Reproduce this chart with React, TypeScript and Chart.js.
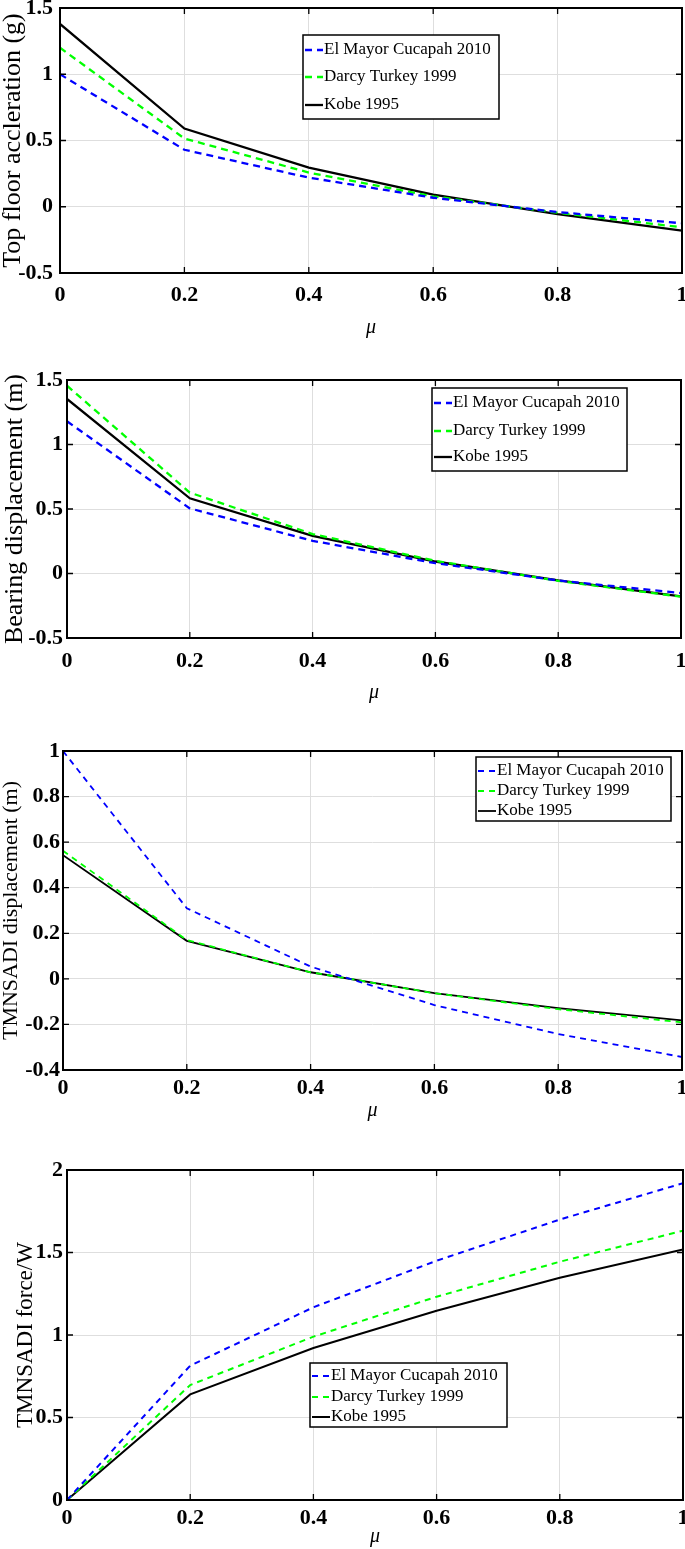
import React, { useEffect, useRef } from "react";
import { Chart, registerables } from "chart.js";

Chart.register(...registerables);

// ---------------- data ----------------
const MU = [0, 0.2, 0.4, 0.6, 0.8, 1];
const X_TICKS = [0, 0.2, 0.4, 0.6, 0.8, 1];

const SERIES_NAMES = ["El Mayor Cucapah 2010", "Darcy Turkey 1999", "Kobe 1995"];

// Top floor acceleration (g)
const ACC_ELMAYOR = [1.0, 0.43, 0.22, 0.068, -0.04, -0.125];
const ACC_DARCY = [1.2, 0.515, 0.258, 0.078, -0.045, -0.155];
const ACC_KOBE = [1.38, 0.59, 0.295, 0.092, -0.055, -0.18];
const ACC_TICKS = [-0.5, 0, 0.5, 1, 1.5];

// Bearing displacement (m)
const BEAR_ELMAYOR = [1.18, 0.505, 0.253, 0.08, -0.054, -0.152];
const BEAR_DARCY = [1.456, 0.627, 0.306, 0.098, -0.057, -0.18];
const BEAR_KOBE = [1.353, 0.583, 0.292, 0.093, -0.054, -0.178];
const BEAR_TICKS = [-0.5, 0, 0.5, 1, 1.5];

// TMNSADI displacement (m)
const DISP_ELMAYOR = [1.0, 0.31, 0.054, -0.115, -0.242, -0.343];
const DISP_DARCY = [0.562, 0.17, 0.029, -0.063, -0.133, -0.191];
const DISP_KOBE = [0.543, 0.167, 0.029, -0.063, -0.128, -0.182];
const DISP_TICKS = [-0.4, -0.2, 0, 0.2, 0.4, 0.6, 0.8, 1];

// TMNSADI force / W
const FORCE_ELMAYOR = [0, 0.814, 1.168, 1.45, 1.7, 1.92];
const FORCE_DARCY = [0, 0.697, 0.99, 1.232, 1.444, 1.632];
const FORCE_KOBE = [0, 0.64, 0.921, 1.147, 1.347, 1.519];
const FORCE_TICKS = [0, 0.5, 1, 1.5, 2];

// ---------------- styling ----------------
const SERIF = "'Liberation Serif', 'Times New Roman', serif";
const COLORS = ["#0000ff", "#00ff00", "#000000"];
const GRID = "#dedede";

const fmt = (v: number) => String(Number(v.toFixed(2)));

const framePlugin = {
  id: "matFrame",
  afterDatasetsDraw(chart: any) {
    const { ctx, chartArea: a, scales } = chart;
    const xs = scales.x;
    const ys = scales.y;
    const L = 6;
    ctx.save();
    ctx.strokeStyle = "#000";
    ctx.lineWidth = 1.3;
    ctx.setLineDash([]);
    ctx.beginPath();
    xs.ticks.forEach((t: any) => {
      const px = xs.getPixelForValue(t.value);
      ctx.moveTo(px, a.bottom);
      ctx.lineTo(px, a.bottom - L);
      ctx.moveTo(px, a.top);
      ctx.lineTo(px, a.top + L);
    });
    ys.ticks.forEach((t: any) => {
      const py = ys.getPixelForValue(t.value);
      ctx.moveTo(a.left, py);
      ctx.lineTo(a.left + L, py);
      ctx.moveTo(a.right, py);
      ctx.lineTo(a.right - L, py);
    });
    ctx.stroke();
    ctx.lineWidth = 2;
    ctx.strokeRect(a.left, a.top, a.right - a.left, a.bottom - a.top);
    ctx.restore();
  },
};

const legendPlugin = {
  id: "boxLegend",
  afterDraw(chart: any, _args: any, opts: any) {
    const { ctx } = chart;
    const { x, y, w, h, rows, lineX0, lineX1, textX, fontSize } = opts;
    ctx.save();
    ctx.fillStyle = "#fff";
    ctx.fillRect(x, y, w, h);
    ctx.lineWidth = 1.5;
    ctx.strokeStyle = "#000";
    ctx.setLineDash([]);
    ctx.strokeRect(x, y, w, h);
    chart.data.datasets.forEach((ds: any, i: number) => {
      const ry = y + rows[i];
      ctx.beginPath();
      ctx.setLineDash(ds.borderDash || []);
      ctx.strokeStyle = ds.borderColor;
      ctx.lineWidth = ds.borderWidth;
      ctx.moveTo(x + lineX0, ry);
      ctx.lineTo(x + lineX1, ry);
      ctx.stroke();
      ctx.setLineDash([]);
      ctx.fillStyle = "#000";
      ctx.font = `${fontSize}px ${SERIF}`;
      ctx.textBaseline = "middle";
      ctx.textAlign = "left";
      ctx.fillText(ds.label, x + textX, ry);
    });
    ctx.restore();
  },
};

type Spec = {
  top: number;
  height: number;
  series: number[][];
  yTicks: number[];
  yTitle: string;
  yTitleSize: number;
  yTitlePad: number;
  yWidth: number;
  yTickPad: number;
  padTop: number;
  padRight: number;
  xHeight: number;
  xTickPad: number;
  muPad: number;
  lineWidth: number;
  dash: number[];
  legend: any;
};

const SPECS: Spec[] = [
  {
    top: 0,
    height: 345,
    series: [ACC_ELMAYOR, ACC_DARCY, ACC_KOBE],
    yTicks: ACC_TICKS,
    yTitle: "Top floor accleration (g)",
    yTitleSize: 26,
    yTitlePad: 0,
    yWidth: 60,
    yTickPad: 7,
    padTop: 8,
    padRight: 3,
    xHeight: 72,
    xTickPad: 9,
    muPad: 5,
    lineWidth: 2.3,
    dash: [7, 5],
    legend: { x: 303, y: 35, w: 196, h: 84, rows: [15, 42, 70], lineX0: 2, lineX1: 20, textX: 21, fontSize: 17 },
  },
  {
    top: 345,
    height: 360,
    series: [BEAR_ELMAYOR, BEAR_DARCY, BEAR_KOBE],
    yTicks: BEAR_TICKS,
    yTitle: "Bearing displacement (m)",
    yTitleSize: 26,
    yTitlePad: 2,
    yWidth: 67,
    yTickPad: 4,
    padTop: 35,
    padRight: 4,
    xHeight: 67,
    xTickPad: 10,
    muPad: 0,
    lineWidth: 2.3,
    dash: [7, 5],
    legend: { x: 432, y: 43, w: 195, h: 83, rows: [15, 43, 69], lineX0: 2, lineX1: 20, textX: 21, fontSize: 17 },
  },
  {
    top: 705,
    height: 420,
    series: [DISP_ELMAYOR, DISP_DARCY, DISP_KOBE],
    yTicks: DISP_TICKS,
    yTitle: "TMNSADI displacement (m)",
    yTitleSize: 22,
    yTitlePad: 0,
    yWidth: 63,
    yTickPad: 3,
    padTop: 46,
    padRight: 3,
    xHeight: 55,
    xTickPad: 5,
    muPad: 2,
    lineWidth: 1.8,
    dash: [6, 5],
    legend: { x: 476, y: 52, w: 195, h: 64, rows: [14, 34, 54], lineX0: 2, lineX1: 20, textX: 21, fontSize: 17 },
  },
  {
    top: 1125,
    height: 424,
    series: [FORCE_ELMAYOR, FORCE_DARCY, FORCE_KOBE],
    yTicks: FORCE_TICKS,
    yTitle: "TMNSADI force/W",
    yTitleSize: 23,
    yTitlePad: 14,
    yWidth: 67,
    yTickPad: 4,
    padTop: 45,
    padRight: 2,
    xHeight: 49,
    xTickPad: 5,
    muPad: 0,
    lineWidth: 2,
    dash: [6, 5],
    legend: { x: 310, y: 238, w: 197, h: 64, rows: [13, 34, 54], lineX0: 2, lineX1: 20, textX: 21, fontSize: 17 },
  },
];

function buildConfig(spec: Spec): any {
  const tickFont = { family: SERIF, size: 22, weight: "bold" as const, lineHeight: 1.2 };
  return {
    type: "line",
    data: {
      datasets: spec.series.map((vals, i) => ({
        label: SERIES_NAMES[i],
        data: MU.map((x, j) => ({ x, y: vals[j] })),
        borderColor: COLORS[i],
        backgroundColor: COLORS[i],
        borderWidth: spec.lineWidth,
        borderDash: i < 2 ? spec.dash : [],
        pointRadius: 0,
        tension: 0,
        fill: false,
      })),
    },
    options: {
      responsive: false,
      maintainAspectRatio: false,
      animation: false,
      layout: { padding: { top: spec.padTop, right: spec.padRight, left: 0, bottom: 0 } },
      plugins: {
        legend: { display: false },
        tooltip: { enabled: false },
        boxLegend: spec.legend,
      },
      scales: {
        x: {
          type: "linear",
          min: X_TICKS[0],
          max: X_TICKS[X_TICKS.length - 1],
          afterBuildTicks: (s: any) => {
            s.ticks = X_TICKS.map((v) => ({ value: v }));
          },
          afterFit: (s: any) => {
            s.height = spec.xHeight;
            s.paddingLeft = 0;
            s.paddingRight = 0;
          },
          grid: { color: GRID, lineWidth: 1, drawTicks: false },
          border: { display: false },
          ticks: {
            font: tickFont,
            color: "#000",
            padding: spec.xTickPad,
            maxRotation: 0,
            autoSkip: false,
            callback: (v: number) => fmt(v),
          },
          title: {
            display: true,
            text: "μ",
            color: "#000",
            font: { family: SERIF, size: 20, style: "italic", lineHeight: 1.2 },
            padding: { top: 0, bottom: spec.muPad },
          },
        },
        y: {
          type: "linear",
          min: spec.yTicks[0],
          max: spec.yTicks[spec.yTicks.length - 1],
          afterBuildTicks: (s: any) => {
            s.ticks = spec.yTicks.map((v) => ({ value: v }));
          },
          afterFit: (s: any) => {
            s.width = spec.yWidth;
            s.paddingTop = 0;
            s.paddingBottom = 0;
          },
          grid: { color: GRID, lineWidth: 1, drawTicks: false },
          border: { display: false },
          ticks: {
            font: tickFont,
            color: "#000",
            padding: spec.yTickPad,
            autoSkip: false,
            callback: (v: number) => fmt(v),
          },
          title: {
            display: true,
            text: spec.yTitle,
            color: "#000",
            font: { family: SERIF, size: spec.yTitleSize, lineHeight: 1 },
            padding: { top: spec.yTitlePad, bottom: 0 },
          },
        },
      },
    },
    plugins: [framePlugin, legendPlugin],
  };
}

function Panel({ spec }: { spec: Spec }) {
  const ref = useRef<HTMLCanvasElement | null>(null);
  useEffect(() => {
    if (!ref.current) return;
    const chart = new Chart(ref.current, buildConfig(spec));
    return () => chart.destroy();
  }, [spec]);
  return (
    <canvas
      ref={ref}
      width={685}
      height={spec.height}
      style={{ position: "absolute", left: 0, top: spec.top, display: "block", width: 685, height: spec.height }}
    />
  );
}

export default function App() {
  return (
    <div style={{ position: "absolute", left: 0, top: 0, width: 685, height: 1549, background: "#fff", overflow: "hidden" }}>
      {SPECS.map((s, i) => (
        <Panel key={i} spec={s} />
      ))}
    </div>
  );
}
